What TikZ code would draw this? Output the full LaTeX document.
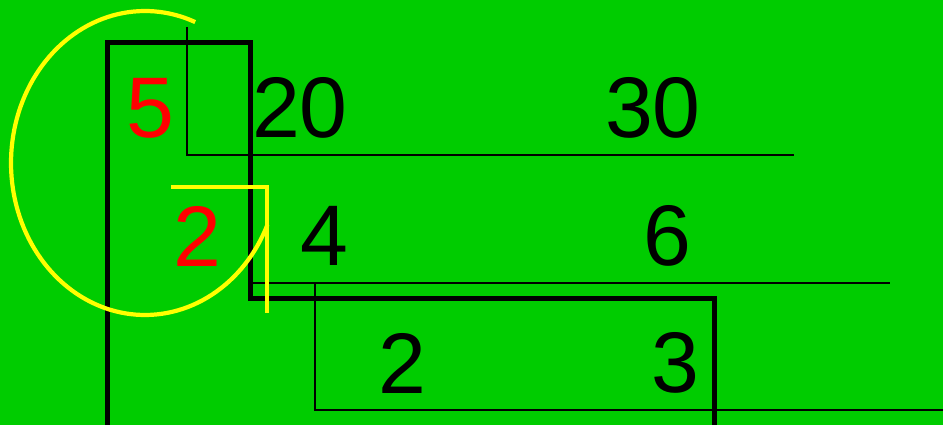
\documentclass[tikz,border=0pt]{standalone}
\usepackage{fontspec}
\setmainfont{Liberation Sans}
\definecolor{bggreen}{RGB}{0,204,0}
\definecolor{pureyellow}{RGB}{255,255,0}
\definecolor{purered}{RGB}{255,0,0}
\begin{document}
\begin{tikzpicture}[x=1pt,y=-1pt,
  thickblack/.style={draw=black,line width=5pt},
  thinblack/.style={draw=black,line width=2.2pt},
  yel/.style={draw=pureyellow,line width=4.2pt},
  num/.style={inner sep=0pt,font=\fontsize{86}{86}\selectfont},
  rednum/.style={num,text=purered}]
\fill[bggreen] (0,0) rectangle (943,425);
\useasboundingbox (0,0) rectangle (943,425);
% thick L-shaped frame
\draw[thickblack] (107,428) -- (107,42.5) -- (250.5,42.5) -- (250.5,298.5) -- (714.5,298.5) -- (714.5,428);
% thin division lines
\draw[thinblack] (187,27) -- (187,155) -- (794,155);
\draw[thinblack] (250,283) -- (890,283);
\draw[thinblack] (315,283) -- (315,410) -- (945,410);
% numbers
\node[rednum] (n5) at (150,108) {5};
\node[num] (n20) at (300,108) {20};
\node[num] (n30) at (653,108) {30};
\node[rednum] (n2r) at (197,236) {2};
\node[num] (n4) at (324,236) {4};
\node[num] (n6) at (667,236) {6};
\node[num] (n2) at (402,363) {2};
\node[num] (n3) at (675,363) {3};
% yellow marks
\draw[yel] plot[domain=24:292,samples=120] ({145+134*cos(\x)},{163+152*sin(\x)});
\draw[yel] (171,187) -- (267,187) -- (267,313);
\end{tikzpicture}
\end{document}
